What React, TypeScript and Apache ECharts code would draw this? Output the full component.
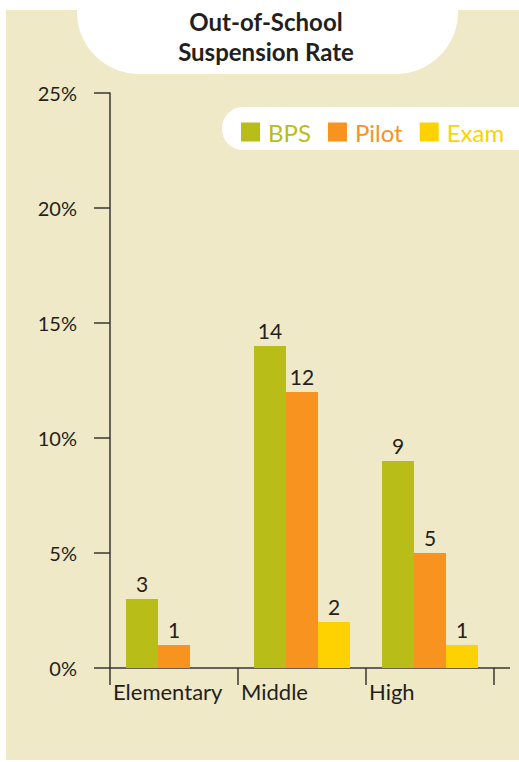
import React, { useEffect, useRef } from "react";
import * as echarts from "echarts";

const categories = ["Elementary", "Middle", "High"];
const seriesNames = ["BPS", "Pilot", "Exam"];
const bpsValues = [3, 14, 9];
const pilotValues = [1, 12, 5];
const examValues: (number | null)[] = [null, 2, 1];
const yTicks = [0, 5, 10, 15, 20, 25];
const titleLines = ["Out-of-School", "Suspension Rate"];
const colors = ["#B9BD18", "#F7931E", "#FED200"];

const FONT = "Lato";
const INK = "#231F20";
const AXIS = "#3A3536";

export default function App() {
  const ref = useRef<HTMLDivElement>(null);
  useEffect(() => {
    if (!ref.current) return;
    const chart = echarts.init(ref.current, null, { renderer: "svg" });
    const values = [bpsValues, pilotValues, examValues];
    const labelCats = [...categories, ""];
    chart.setOption({
      animation: false,
      backgroundColor: "#ffffff",
      textStyle: { fontFamily: FONT },
      graphic: [
        {
          type: "rect",
          z: -10,
          shape: { x: 6, y: 10, width: 520, height: 750 },
          style: { fill: "#F0E9C8" },
        },
        {
          type: "rect",
          z: -9,
          shape: { x: 77, y: -80, width: 381, height: 154, r: 62 },
          style: { fill: "#ffffff" },
        },
        {
          type: "rect",
          z: -9,
          shape: { x: 222, y: 107, width: 320, height: 43, r: [21, 0, 0, 21] },
          style: { fill: "#ffffff" },
        },
        ...titleLines.map((t, i) => ({
          type: "text",
          style: {
            x: 266,
            y: 21.5 + i * 29.5,
            text: t,
            fill: INK,
            font: `bold 24px ${FONT}`,
            align: "center",
            verticalAlign: "middle",
          },
        })),
        {
          type: "line",
          shape: { x1: 494, y1: 668, x2: 510, y2: 668 },
          style: { stroke: AXIS, lineWidth: 1.5 },
        },
      ],
      legend: {
        left: 241,
        top: 120,
        padding: 0,
        icon: "rect",
        itemWidth: 19,
        itemHeight: 19,
        itemGap: 17,
        textStyle: { fontFamily: FONT, fontSize: 24, padding: [0, 0, 0, 3] },
        data: seriesNames.map((n, i) => ({ name: n, textStyle: { color: colors[i] } })),
      },
      grid: { left: 110, right: 25, top: 93, bottom: 94, containLabel: false },
      xAxis: [
        {
          type: "category",
          data: categories,
          axisLine: { lineStyle: { color: AXIS, width: 1.5 } },
          axisTick: { show: true, length: 17, lineStyle: { color: AXIS, width: 1.5 } },
          axisLabel: { show: false },
        },
        {
          type: "category",
          data: labelCats,
          boundaryGap: false,
          position: "bottom",
          axisLine: { show: false },
          axisTick: { show: false },
          axisLabel: {
            interval: 0,
            align: "left",
            margin: 12,
            padding: [0, 0, 0, 3],
            color: INK,
            fontFamily: FONT,
            fontSize: 22,
          },
        },
      ],
      yAxis: {
        type: "value",
        min: yTicks[0],
        max: yTicks[yTicks.length - 1],
        interval: 5,
        splitLine: { show: false },
        axisLine: { show: true, lineStyle: { color: AXIS, width: 1.5 } },
        axisTick: { show: true, length: 16, lineStyle: { color: AXIS, width: 1.5 } },
        axisLabel: {
          formatter: "{value}%",
          margin: 33,
          color: INK,
          fontFamily: FONT,
          fontSize: 20,
        },
      },
      series: seriesNames.map((name, i) => ({
        name,
        type: "bar",
        xAxisIndex: 0,
        data: values[i],
        barGap: "0%",
        barCategoryGap: "25%",
        itemStyle: { color: colors[i] },
        label: {
          show: true,
          position: "top",
          distance: 5,
          color: INK,
          fontFamily: FONT,
          fontSize: 21,
        },
      })),
    });
    return () => chart.dispose();
  }, []);
  return (
    <div
      ref={ref}
      style={{ position: "fixed", left: 0, top: 0, width: 519, height: 762 }}
    />
  );
}
